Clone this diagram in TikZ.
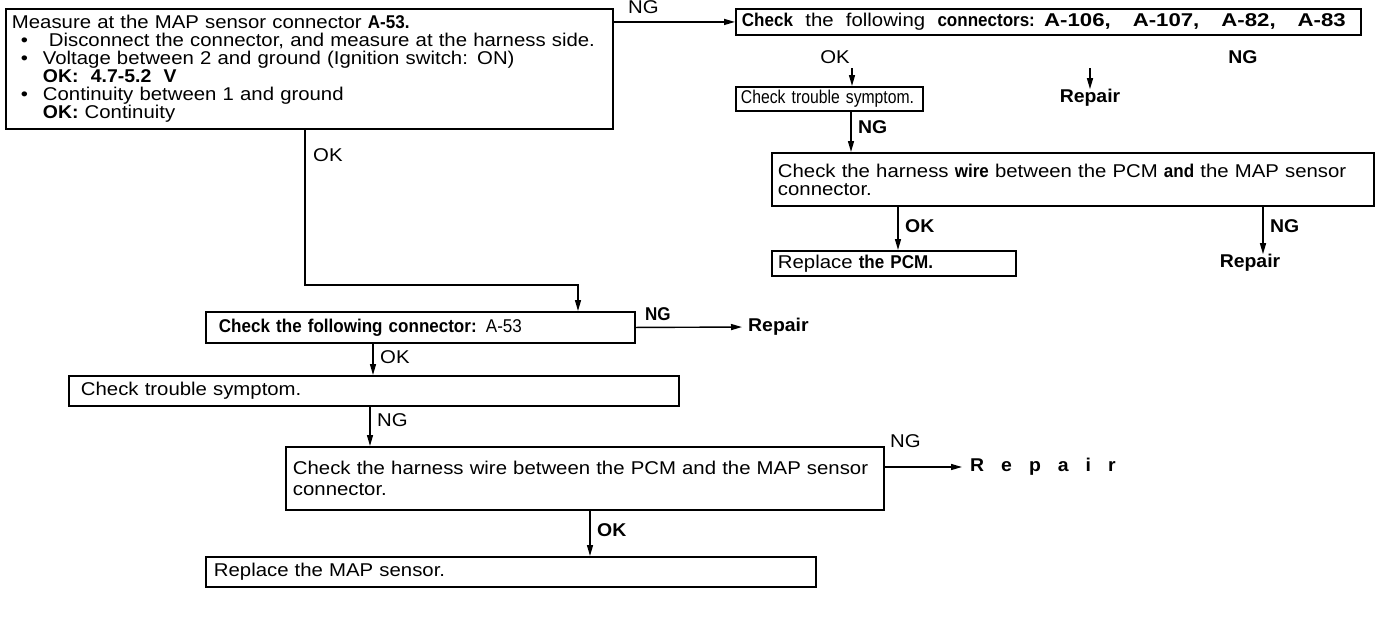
\documentclass[tikz,border=0pt]{standalone}
\usepackage{fontspec}
\setmainfont{Liberation Sans}[FakeStretch=1.1]
\newfontfamily\bff{Liberation Sans}[FakeStretch=0.92]
\newfontfamily\bfw{Liberation Sans}[FakeStretch=1.2]
\newfontfamily\nrw{Liberation Sans}[FakeStretch=0.85]
\newfontfamily\bfl{Liberation Sans}[FakeStretch=1.05]
\usetikzlibrary{arrows.meta}
\newcommand\B[1]{{\bff\bfseries #1}}
\newcommand\BL[1]{{\bfl\bfseries #1}}
\begin{document}
\begin{tikzpicture}[x=1pt,y=-1pt,
  box/.style={draw, line width=1.9pt, anchor=north west, inner xsep=6pt, inner ysep=0pt, align=left, font=\fontsize{18.5}{18}\selectfont},
  lbl/.style={font=\fontsize{18.5}{18}\selectfont, inner sep=0pt},
  arr/.style={line width=1.4pt, -{Triangle[length=11pt,width=6pt]}}]
\useasboundingbox (0,0) rectangle (1385,619);

% top-left box
\node[box, text width=595pt, minimum height=120pt] (b1) at (5,8) {Measure at the MAP sensor connector \B{A-53.}\\
\hspace*{9pt}\makebox[28pt][l]{•}Disconnect the connector, and measure at the harness side.\\
\hspace*{9pt}\makebox[22pt][l]{•}Voltage between 2 and ground (Ignition switch: ON)\\
\hspace*{31pt}\BL{OK:\ \ 4.7-5.2\ \ V}\\
\hspace*{9pt}\makebox[22pt][l]{•}Continuity between 1 and ground\\
\hspace*{31pt}\BL{OK:} Continuity};

% top-right flow
\node[box, text width=613pt, minimum height=26pt] (b2) at (735,8) {\B{Check}\ \ the\ \ following\ \ \B{connectors:} {\bfw\bfseries A-106,\hspace{22pt}A-107,\hspace{22pt}A-82,\hspace{22pt}A-83}};
\node[lbl, anchor=west] (ng0) at (628,7) {NG};
\draw[arr] (b1.east |- b2.west) -- (b2.west);

\node[lbl] (okA) at (835,57) {OK};
\node[lbl] (ngA) at (1243,57) {\BL{NG}};
\node[box, text width=177pt, inner xsep=5pt, minimum height=24pt, font=\nrw\fontsize{18.5}{18}\selectfont] (b3) at (735,86) {Check trouble symptom.};
\node[lbl] (rep1) at (1090,98) {\BL{Repair}};
\coordinate (tA) at (852,68);
\coordinate (tB) at (1090,68);
\draw[arr] (tA) -- (tA |- b3.north);
\draw[arr] (tB) -- (rep1.north);

\node[box, text width=590pt, minimum height=53pt] (b4) at (771,152) {Check the harness \B{wire} between the PCM \B{and} the MAP sensor\\connector.};
\coordinate (xA) at (851,0);
\draw[arr] (b3.south -| xA) -- (b4.north -| xA);
\node[lbl, anchor=west] (ngB) at (858,127) {\BL{NG}};

\node[box, text width=232pt, minimum height=25pt] (b5) at (771,250) {Replace \B{the PCM.}};
\node[lbl] (rep2) at (1250,263) {\BL{Repair}};
\coordinate (xB) at (898,0);
\coordinate (xC) at (1263,0);
\draw[arr] (b4.south -| xB) -- (b5.north -| xB);
\draw[arr] (b4.south -| xC) -- (rep2.north -| xC);
\node[lbl, anchor=west] (okB) at (905,226) {\BL{OK}};
\node[lbl, anchor=west] (ngC) at (1270,226) {\BL{NG}};

% left flow
\node[box, text width=403pt, inner xsep=13pt, minimum height=31pt] (b6) at (205,311) {\B{Check the following connector:} {\bff A-53}};
\coordinate (xD) at (305,0);
\coordinate (xE) at (578,285);
\draw[arr] (b1.south -| xD) |- (xE) -- (b6.north -| xE);
\node[lbl, anchor=west] (okC) at (313,155) {OK};

\node[lbl, anchor=west] (rep3) at (748,327) {\BL{Repair}};
\draw[arr, shorten >=6pt] (b6.east) -- (rep3.west);
\node[lbl, anchor=west] (ngD) at (645,314) {\B{NG}};

\node[box, text width=586pt, inner xsep=12pt, minimum height=30pt] (b7) at (68,375) {Check trouble symptom.};
\coordinate (xF) at (373,0);
\draw[arr] (b6.south -| xF) -- (b7.north -| xF);
\node[lbl, anchor=west] (okD) at (380,357) {OK};

\node[box, text width=584pt, inner xsep=7pt, minimum height=63pt, font=\fontsize{18.5}{21}\selectfont] (b8) at (285,446) {Check the harness wire between the PCM and the MAP sensor\\connector.};
\coordinate (xG) at (370,0);
\draw[arr] (b7.south -| xG) -- (b8.north -| xG);
\node[lbl, anchor=west] (ngE) at (377,420) {NG};

\node[lbl, anchor=west] (rep4) at (970,467) {\BL{R\hspace{17pt}e\hspace{17pt}p\hspace{17pt}a\hspace{17pt}i\hspace{17pt}r}};
\draw[arr, shorten >=8pt] (b8.east |- rep4.west) -- (rep4.west);
\node[lbl, anchor=west] (ngF) at (890,441) {NG};

\node[box, text width=594pt, inner xsep=8pt, minimum height=30pt] (b9) at (205,556) {Replace the MAP sensor.};
\coordinate (xH) at (590,0);
\draw[arr] (b8.south -| xH) -- (b9.north -| xH);
\node[lbl, anchor=west] (okE) at (597,530) {\BL{OK}};
\end{tikzpicture}
\end{document}
